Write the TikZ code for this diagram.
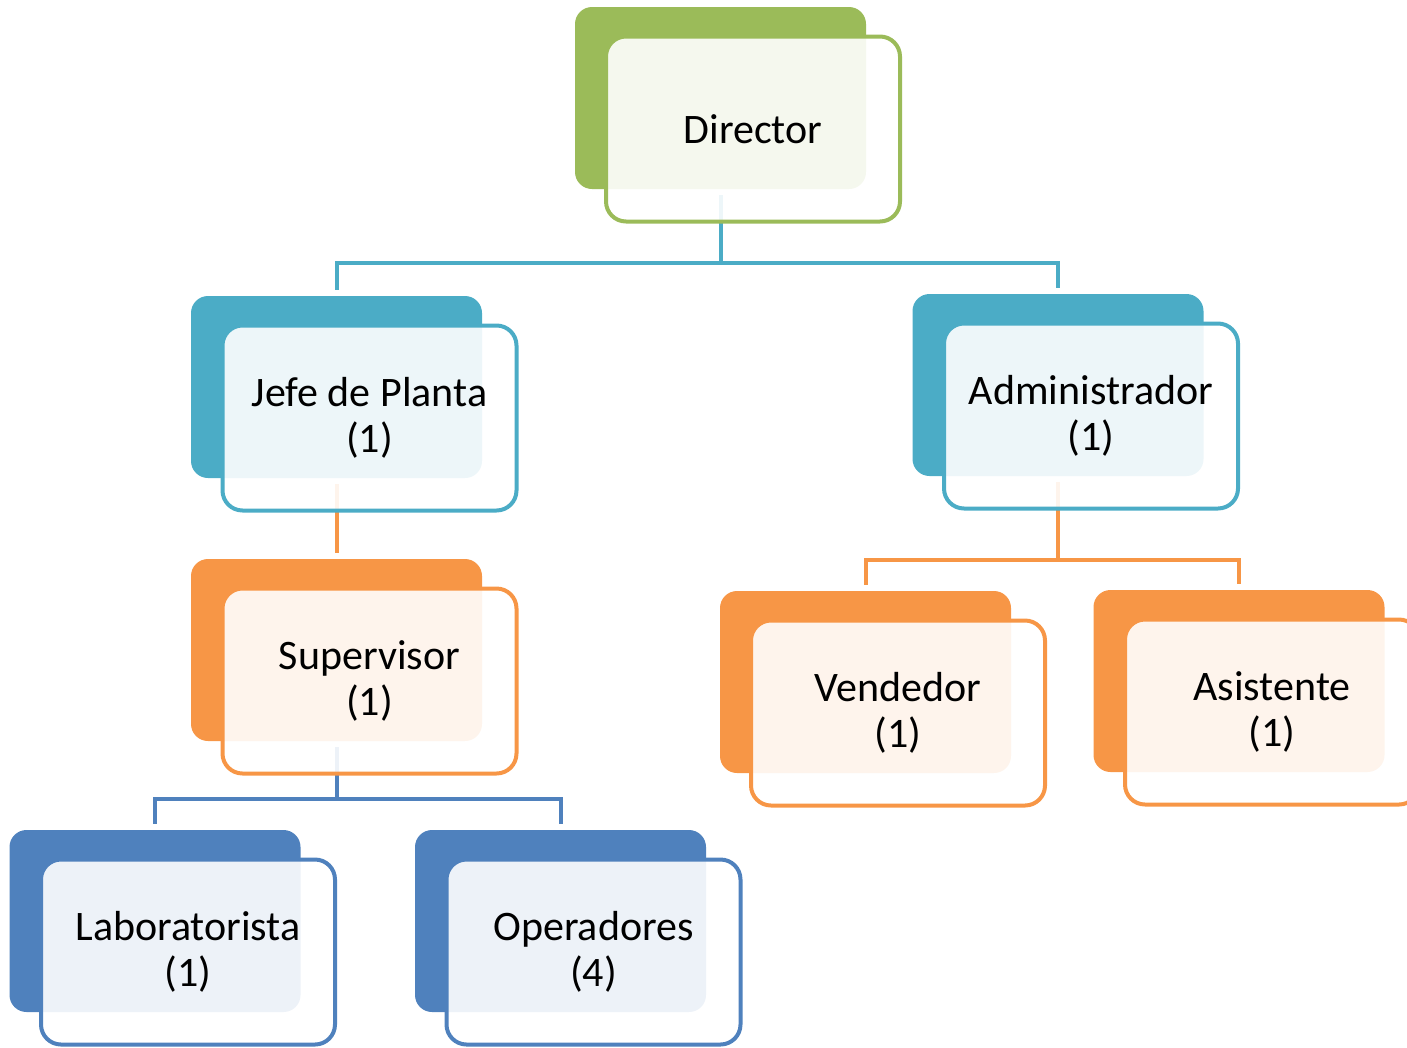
\documentclass[tikz,border=0pt]{standalone}
\usepackage{fontspec}
\setmainfont{Carlito}
\usetikzlibrary{backgrounds}
\definecolor{cgreen}{HTML}{9BBB59}
\definecolor{cteal}{HTML}{4BACC6}
\definecolor{corange}{HTML}{F79646}
\definecolor{cblue}{HTML}{4F81BD}
\begin{document}
\begin{tikzpicture}[x=1pt,y=-1pt,
  backbox/.style={rectangle, rounded corners=17pt, minimum width=291pt, minimum height=182pt, inner sep=0pt, outer sep=0pt, draw=none},
  frontbox/.style={rectangle, rounded corners=20pt, minimum width=294pt, minimum height=185pt, inner sep=0pt, outer sep=0pt, line width=4pt, fill=white, fill opacity=0.9, text opacity=1, align=center, font=\fontsize{42}{46}\selectfont},
  conn/.style={line width=4pt, shorten <=6pt, shorten >=6pt}]
\useasboundingbox (0,0) rectangle (1407,1047);
% back boxes
\node[backbox, fill=cgreen]  (dirB) at (720.5,98) {};
\node[backbox, fill=cteal]   (jefB) at (336.5,387) {};
\node[backbox, fill=cteal]   (admB) at (1058,385) {};
\node[backbox, fill=corange] (supB) at (336.5,650) {};
\node[backbox, fill=corange] (venB) at (865.5,682) {};
\node[backbox, fill=corange] (asiB) at (1239,681) {};
\node[backbox, fill=cblue]   (labB) at (155,921) {};
\node[backbox, fill=cblue]   (opeB) at (560.5,921) {};
% front boxes
\node[frontbox, draw=cgreen]  (dirF) at (753,129) {Director};
\node[frontbox, draw=cteal]   (jefF) at (369.5,418) {Jefe de Planta\\(1)};
\node[frontbox, draw=cteal]   (admF) at (1091,416) {Administrador\\(1)};
\node[frontbox, draw=corange] (supF) at (369.5,681) {Supervisor\\(1)};
\node[frontbox, draw=corange] (venF) at (898,713) {Vendedor\\(1)};
\node[frontbox, draw=corange] (asiF) at (1272,712) {Asistente\\(1)};
\node[frontbox, draw=cblue]   (labF) at (188,952) {Laboratorista\\(1)};
\node[frontbox, draw=cblue]   (opeF) at (593.5,952) {Operadores\\(4)};
% connectors
\begin{pgfonlayer}{background}
\draw[conn, cteal] (dirB.south) -- ++(0,74) -| (jefB.north);
\draw[conn, cteal] (dirB.south) -- ++(0,74) -| (admB.north);
\draw[conn, corange] (jefB.south) -- (supB.north);
\draw[conn, cblue] (supB.south) -- ++(0,58) -| (labB.north);
\draw[conn, cblue] (supB.south) -- ++(0,58) -| (opeB.north);
\draw[conn, corange] (admB.south) -- ++(0,84) -| (venB.north);
\draw[conn, corange] (admB.south) -- ++(0,84) -| (asiB.north);
\end{pgfonlayer}
\end{tikzpicture}
\end{document}
